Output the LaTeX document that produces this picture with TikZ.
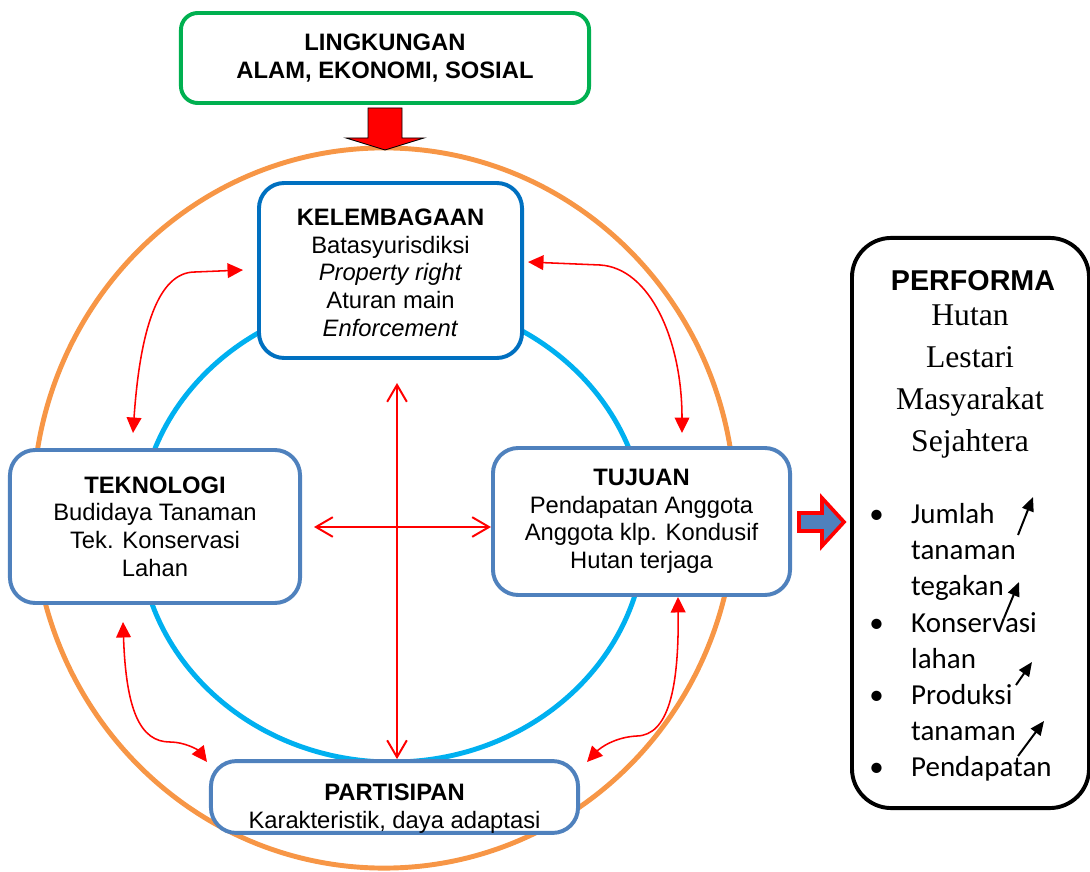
\documentclass[tikz,border=0pt]{standalone}
\usepackage{fontspec}
\setmainfont{Liberation Serif}
\setsansfont{Liberation Sans}
\newfontfamily\calibri{Carlito}
\usetikzlibrary{arrows.meta, positioning, calc}
\definecolor{lingkgreen}{HTML}{00B050}
\definecolor{kelblue}{HTML}{0070C0}
\definecolor{boxblue}{HTML}{4F81BD}
\definecolor{ringcyan}{HTML}{00B0F0}
\definecolor{ringorange}{HTML}{F79646}

\begin{document}
\begin{tikzpicture}[
    x=0.025cm, y=-0.025cm,
    box/.style={rectangle, rounded corners=18pt, draw=boxblue, fill=white, line width=2.8pt, inner sep=0pt, align=center, font=\sffamily\fontsize{16.9}{19.6}\selectfont},
    ring/.style={line width=3.5pt},
    linkarrow/.style={red, line width=1.1pt, {Triangle[length=11pt,width=10.5pt]}-{Triangle[length=11pt,width=10.5pt]}},
    crossarrow/.style={red, line width=1.4pt, {Straight Barb[length=12pt,width=14pt]}-{Straight Barb[length=12pt,width=14pt]}},
    trend/.style={-{Triangle[length=10pt,width=8.5pt]}, line width=1.4pt}
  ]
  \useasboundingbox (0,0) rectangle (1090,872);
  \clip (0,0) rectangle (1090,872);

  % rings
  \draw[ring, ringorange] (384,508) ellipse [x radius=8.775cm, y radius=9cm];
  \draw[ring, ringcyan] (392,530) ellipse [x radius=6.325cm, y radius=5.8cm];

  \node[box, draw=lingkgreen, rounded corners=12pt, minimum width=10.2cm, minimum height=2.25cm] (ling) at (385,58)
    {\textbf{LINGKUNGAN}\\\textbf{ALAM, EKONOMI, SOSIAL}};
  \node[box, draw=kelblue, minimum width=6.575cm, minimum height=4.375cm] (kel) at (390.5,270.5)
    {\rule{0pt}{15pt}\textbf{KELEMBAGAAN}\\Batasyurisdiksi\\\textit{Property right}\\Aturan main\\\textit{Enforcement}};
  \node[box, minimum width=7.25cm, minimum height=3.825cm] (tek) at (155,526.5)
    {\textbf{TEKNOLOGI}\\Budidaya Tanaman\\Tek. Konservasi\\Lahan};
  \node[box, minimum width=7.425cm, minimum height=3.675cm] (tuj) at (641.5,521.5)
    {\textbf{TUJUAN}\\Pendapatan Anggota\\Anggota klp. Kondusif\\Hutan terjaga};
  \node[box, minimum width=9.175cm, minimum height=1.75cm] (par) at (394.5,797)
    {\rule{0pt}{28pt}\textbf{PARTISIPAN}\\Karakteristik, daya adaptasi};
  \node[box, draw=black, rounded corners=28pt, minimum width=5.925cm, minimum height=14.25cm] (perf) at (970.5,523) {};

  \node[font=\sffamily\bfseries\fontsize{20.4}{24}\selectfont] (perftitle) at (973,281) {PERFORMA};
  \node[font=\fontsize{22.5}{30}\selectfont, align=center] (perfgoal) at (970,381.5)
    {Hutan\\Lestari\\Masyarakat\\Sejahtera};
  \node[anchor=north west, inner sep=0pt, font=\calibri\fontsize{20.6}{25.7}\selectfont] (perflist) at (869,498)
    {\begin{tabular}{@{}p{29.8pt}@{}l@{}}
      \textbullet & Jumlah\\ & tanaman\\ & tegakan\\
      \textbullet & Konservasi\\ & lahan\\
      \textbullet & Produksi\\ & tanaman\\
      \textbullet & Pendapatan
    \end{tabular}};

  % block arrows
  \draw[fill=red, line width=0.6pt] (368,108) -- (402,108) -- (402,138) -- (424,138) -- (385,150) -- (346,138) -- (368,138) -- cycle;
  \draw[red, fill=boxblue, line width=2.6pt] (799,513) -- (822,513) -- (822,498) -- (844,522) -- (822,546) -- (822,531) -- (799,531) -- cycle;

  % links between the boxes
  \coordinate (tekTop) at (133,433);
  \coordinate (kelW) at (243,270);
  \coordinate (kelE) at (528,262);
  \coordinate (tujTop) at (682,433);
  \coordinate (tekBot) at (123,622);
  \coordinate (parW) at (207,762);
  \coordinate (tujBot) at (678,597);
  \coordinate (parE) at (587,762);
  \draw[linkarrow] (tekTop) .. controls (140,330) and (158,272) .. (195,272) -- (kelW);
  \draw[linkarrow] (kelE) -- (600,265) .. controls (650,268) and (682,340) .. (tujTop);
  \draw[linkarrow] (tekBot) .. controls (126,710) and (140,742) .. (170,742) .. controls (185,742) and (198,750) .. (parW);
  \draw[linkarrow] (tujBot) .. controls (679,690) and (668,735) .. (637,736) .. controls (615,737) and (600,748) .. (parE);

  \coordinate (crossN) at (397,383);
  \coordinate (crossW) at (314,527);
  \draw[crossarrow] (crossN) -- (crossN |- par.north);
  \draw[crossarrow] (crossW) -- (crossW -| tuj.west);

  % trends
  \coordinate (t1) at (1018,535);
  \coordinate (t2) at (1004,618);
  \coordinate (t3) at (1016,685);
  \coordinate (t4) at (1018,756);
  \draw[trend] (t1) -- ++(15,-38);
  \draw[trend] (t2) -- ++(15,-36);
  \draw[trend] (t3) -- ++(16,-23);
  \draw[trend] (t4) -- ++(26,-35);
\end{tikzpicture}
\end{document}
